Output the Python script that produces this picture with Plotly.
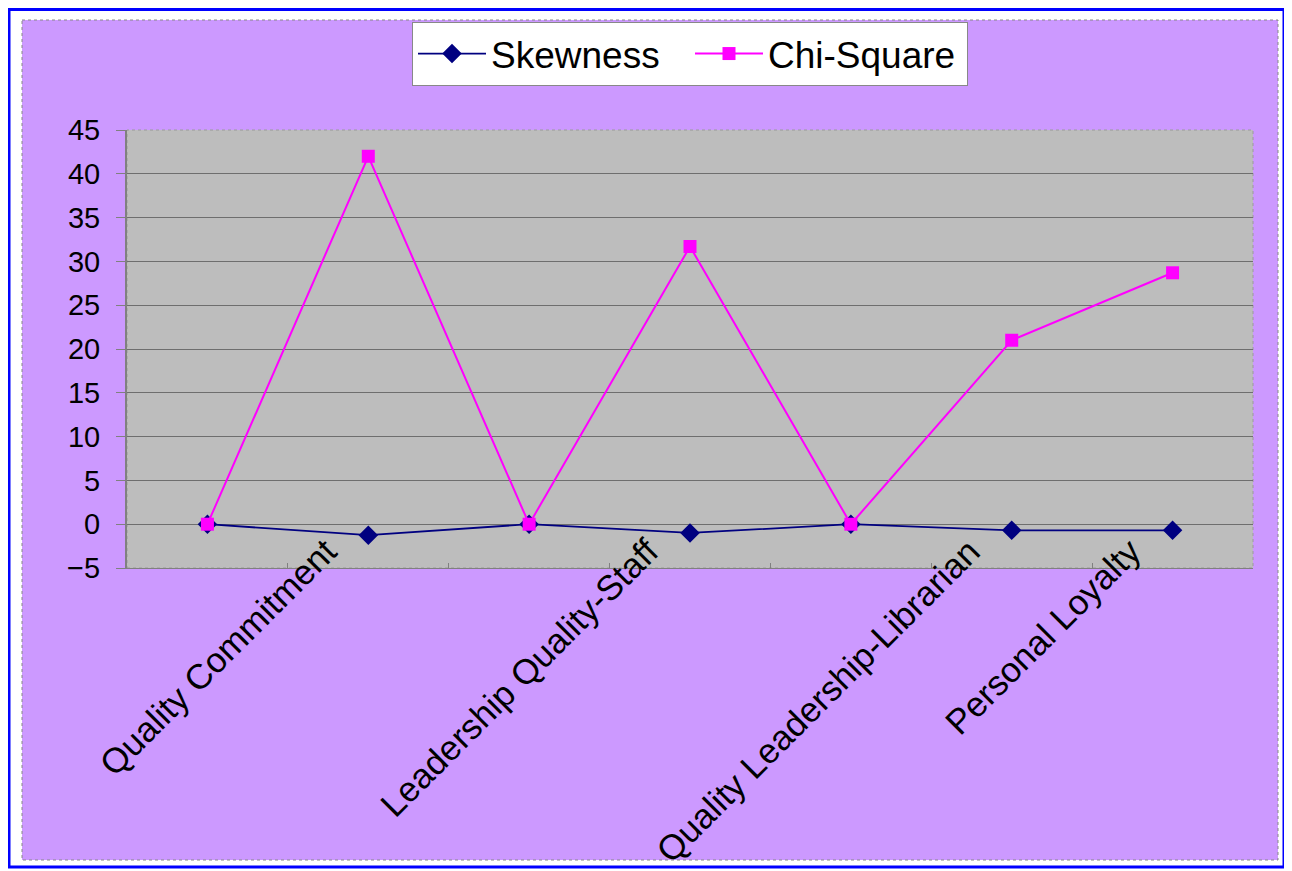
import plotly.graph_objects as go

# ---- data ----
categories = ["", "Quality Commitment", "", "Leadership Quality-Staff", "",
              "Quality Leadership-Librarian", "Personal Loyalty"]
skewness = [0.0, -1.25, 0.0, -1.0, 0.0, -0.7, -0.7]
chi_square = [0.0, 42.0, 0.0, 31.7, 0.0, 21.0, 28.7]
y_ticks = [-5, 0, 5, 10, 15, 20, 25, 30, 35, 40, 45]

# page body has an 8px margin, so the figure is laid out 8px smaller
OFF = 8
W, H = 1292 - OFF, 871 - OFF
L, R, T, B = 127 - OFF, 39, 130 - OFF, 303
PW, PH = W - L - R, H - T - B


def px_x(p):  # screen pixel -> paper x
    return (p - OFF - L) / PW


def px_y(p):  # screen pixel -> paper y
    return (H - B - (p - OFF)) / PH


x_idx = list(range(len(categories)))
label_pos = [i for i, c in enumerate(categories) if c]
label_txt = [c for c in categories if c]

FONT = "Arial, 'Liberation Sans', sans-serif"

fig = go.Figure()
fig.add_trace(go.Scatter(
    x=x_idx, y=skewness, name="Skewness", mode="lines+markers",
    line=dict(color="#000080", width=1.8),
    marker=dict(symbol="diamond", size=15, color="#000080"),
))
fig.add_trace(go.Scatter(
    x=x_idx, y=chi_square, name="Chi-Square", mode="lines+markers",
    line=dict(color="#FF00FF", width=2),
    marker=dict(symbol="square", size=13, color="#FF00FF"),
))

fig.update_layout(
    width=W, height=H,
    margin=dict(l=L, r=R, t=T, b=B, autoexpand=False),
    paper_bgcolor="white",
    plot_bgcolor="rgba(0,0,0,0)",
    font=dict(family=FONT, color="black"),
    showlegend=True,
    legend=dict(
        orientation="h", x=px_x(690), xanchor="center",
        y=px_y(22), yanchor="top",
        itemwidth=68, entrywidth=194,
        bgcolor="white", bordercolor="#888888", borderwidth=1,
        font=dict(size=37, family=FONT, color="black"),
    ),
    shapes=[
        dict(type="rect", xref="paper", yref="paper", layer="below",
             x0=px_x(22), x1=px_x(1278), y0=px_y(20), y1=px_y(860),
             fillcolor="#CC99FF", line=dict(color="#888888", width=1, dash="dot")),
        dict(type="rect", xref="paper", yref="paper", layer="below",
             x0=0, x1=1, y0=0, y1=1,
             fillcolor="#BDBDBD", line=dict(color="#9A9A9A", width=1, dash="dot")),
        dict(type="rect", xref="paper", yref="paper", layer="above",
             x0=px_x(9), x1=px_x(1284), y0=px_y(9.5), y1=px_y(867),
             fillcolor="rgba(0,0,0,0)", line=dict(color="#0000FF", width=3)),
    ],
)

fig.update_xaxes(
    automargin=False,
    range=[-0.5, len(categories) - 0.5],
    tickmode="array", tickvals=label_pos, ticktext=label_txt,
    tickangle=-45, ticks="", ticklabelshift=-42, ticklabelstandoff=-52,
    tickfont=dict(size=35, family=FONT, color="black"),
    showgrid=False, zeroline=False,
    showline=True, linecolor="#808080", linewidth=1,
    minor=dict(tickvals=[i + 0.5 for i in x_idx[:-1]], ticks="inside",
               ticklen=5, tickcolor="#808080", showgrid=False),
)
fig.update_yaxes(
    automargin=False,
    range=[-5, 45], tickmode="array", tickvals=y_ticks,
    ticks="outside", ticklen=9, tickcolor="#808080",
    ticklabelstandoff=10,
    tickfont=dict(size=29, family=FONT, color="black"),
    showgrid=True, gridcolor="#6E6E6E", gridwidth=1,
    zeroline=False, showline=True, linecolor="#808080", linewidth=2,
)

fig.write_html("out.html")
